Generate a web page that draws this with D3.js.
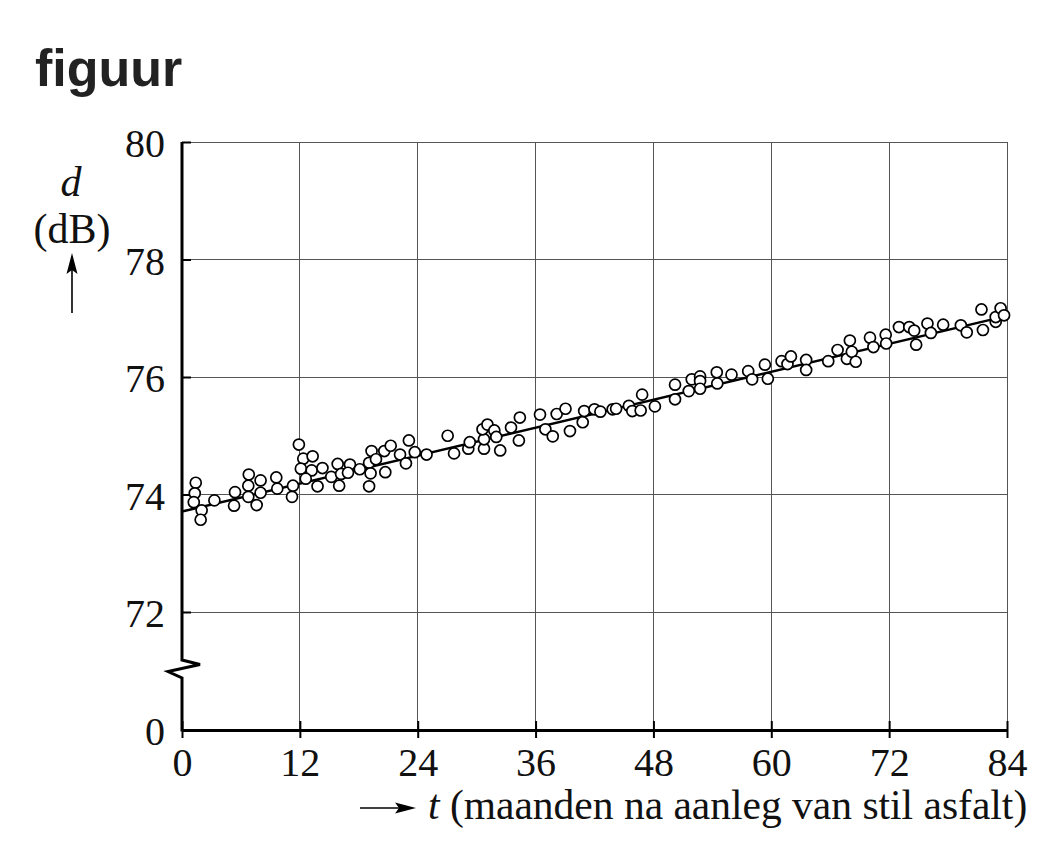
<!DOCTYPE html>
<html><head><meta charset="utf-8">
<script src="https://cdn.jsdelivr.net/npm/d3@7"></script>
<style>
html,body{margin:0;padding:0;background:#fff;}
svg{display:block;}
</style></head>
<body>
<svg id="chart" width="1040" height="866"></svg>
<script>
// ---- data ----
const monthTicks = [0, 12, 24, 36, 48, 60, 72, 84];
const dbTicks = [0, 72, 74, 76, 78, 80];
const gridDb = [72, 74, 76, 78, 80];
const tValues = [1.4,1.3,1.2,2.0,1.9,3.3,5.4,5.3,6.8,6.75,
  6.75,7.6,8.0,8.0,9.6,9.7,11.2,11.3,11.9,12.35,
  13.3,12.1,13.2,12.6,13.8,14.3,15.2,15.85,16.0,16.2,
  17.1,16.9,18.1,19.05,19.2,19.05,19.3,19.75,20.6,20.7,
  21.25,22.2,23.1,22.8,23.7,24.9,27.05,27.7,29.15,29.3,
  30.75,30.75,30.6,31.1,31.8,32.0,32.4,33.5,34.4,34.3,
  36.45,37.0,37.75,38.15,39.05,39.5,40.8,40.95,42.0,42.6,
  43.85,44.2,45.5,45.85,46.7,46.85,48.15,50.2,50.2,51.6,
  51.9,52.75,52.75,52.75,54.45,54.5,55.95,57.65,58.05,59.35,
  59.65,61.05,61.65,62.0,63.55,63.55,65.8,66.75,67.7,68.0,
  68.2,68.6,70.05,70.4,71.65,71.7,73.0,74.05,74.55,74.75,
  75.9,76.25,77.5,79.3,79.9,81.4,81.55,82.85,82.85,83.35,
  83.7];
const dValues = [74.20,74.02,73.87,73.73,73.57,73.90,74.04,73.81,74.34,74.15,
  73.96,73.82,74.24,74.03,74.29,74.10,73.96,74.15,74.85,74.61,
  74.65,74.44,74.41,74.27,74.14,74.45,74.30,74.52,74.15,74.35,
  74.51,74.37,74.43,74.54,74.36,74.14,74.74,74.60,74.74,74.38,
  74.83,74.68,74.92,74.53,74.72,74.68,75.00,74.70,74.78,74.89,
  74.78,74.94,75.11,75.19,75.09,74.98,74.75,75.14,75.31,74.92,
  75.36,75.11,74.99,75.37,75.46,75.08,75.23,75.42,75.45,75.41,
  75.45,75.46,75.51,75.42,75.43,75.70,75.50,75.87,75.62,75.76,
  75.96,76.01,75.93,75.80,76.08,75.89,76.04,76.10,75.96,76.21,
  75.97,76.27,76.22,76.35,76.29,76.12,76.27,76.46,76.31,76.62,
  76.43,76.26,76.67,76.51,76.72,76.57,76.85,76.85,76.79,76.55,
  76.91,76.75,76.89,76.88,76.76,77.15,76.80,76.94,77.02,77.17,
  77.05];
const trendT = [0, 84];
const trendD = [73.71, 77.04];

// ---- scales ----
const x = d3.scaleLinear().domain([0, 84]).range([182, 1007]);
const y = d3.scaleLinear().domain([0, 72, 80]).range([730, 612, 142]);

const svg = d3.select("#chart");
const serif = "'Liberation Serif','Times New Roman',serif";

// title
svg.append("text").attr("x", 35).attr("y", 86)
  .attr("font-family", "'Liberation Sans',Arial,sans-serif")
  .attr("font-weight", "bold").attr("font-size", 52).attr("fill", "#222")
  .text("figuur");

// grid
const grid = svg.append("g").attr("stroke", "#555").attr("stroke-width", 1).attr("shape-rendering", "crispEdges");
grid.selectAll("line.h").data(gridDb).join("line")
  .attr("x1", x(0)).attr("x2", x(84)).attr("y1", d => y(d)).attr("y2", d => y(d));
grid.selectAll("line.v").data(monthTicks.slice(1)).join("line")
  .attr("x1", d => x(d)).attr("x2", d => x(d)).attr("y1", y(80)).attr("y2", y(0));

// x axis
const xAxis = svg.append("g").attr("transform", `translate(0,${y(0)})`)
  .call(d3.axisBottom(x).tickValues(monthTicks).tickSizeOuter(0).tickSizeInner(8).tickPadding(10));
xAxis.select(".domain").attr("stroke", "#000").attr("stroke-width", 3);
xAxis.selectAll(".tick line").attr("stroke", "#000").attr("stroke-width", 2).attr("y1", -9);
xAxis.selectAll(".tick text").attr("font-family", serif).attr("font-size", 40).attr("fill", "#111");

// y axis (ticks + labels, domain drawn separately with break)
const yAxis = svg.append("g").attr("transform", `translate(${x(0)},0)`)
  .call(d3.axisLeft(y).tickValues(dbTicks).tickSizeOuter(0).tickSizeInner(9).tickPadding(8));
yAxis.select(".domain").remove();
yAxis.selectAll(".tick line").attr("stroke", "#000").attr("stroke-width", 2).attr("x2", 9);
yAxis.selectAll(".tick text").attr("font-family", serif).attr("font-size", 40).attr("fill", "#111").attr("dy", "0.37em");

// y axis line with zigzag break
const x0 = x(0);
const axisPts = [[x0, y(80)], [x0, 660], [x0 + 18, 664.5], [x0 - 14, 671.5], [x0, 678], [x0, y(0) + 1.5]];
svg.append("path").attr("d", d3.line()(axisPts))
  .attr("fill", "none").attr("stroke", "#000").attr("stroke-width", 3).attr("stroke-linejoin", "miter");

// trend line
svg.append("path")
  .attr("d", d3.line().x(d => x(d[0])).y(d => y(d[1]))(trendT.map((t, i) => [t, trendD[i]])))
  .attr("stroke", "#000").attr("stroke-width", 2.5).attr("fill", "none");

// points
svg.append("g").selectAll("circle").data(tValues.map((t, i) => [t, dValues[i]])).join("circle")
  .attr("cx", d => x(d[0])).attr("cy", d => y(d[1])).attr("r", 5.5)
  .attr("fill", "#fff").attr("stroke", "#000").attr("stroke-width", 1.7);

// y label
svg.append("text").attr("x", 71).attr("y", 196).attr("text-anchor", "middle")
  .attr("font-family", serif).attr("font-style", "italic").attr("font-size", 42).attr("fill", "#111").text("d");
svg.append("text").attr("x", 72).attr("y", 243).attr("text-anchor", "middle")
  .attr("font-family", serif).attr("font-size", 42).attr("fill", "#111").text("(dB)");
svg.append("line").attr("x1", 72).attr("x2", 72).attr("y1", 313).attr("y2", 268)
  .attr("stroke", "#000").attr("stroke-width", 1.6);
svg.append("path").attr("d", "M72,253 L66.5,274 L72,270 L77.5,274 Z").attr("fill", "#000");

// x label
svg.append("line").attr("x1", 360).attr("x2", 402).attr("y1", 808).attr("y2", 808)
  .attr("stroke", "#000").attr("stroke-width", 1.6);
svg.append("path").attr("d", "M416,808 L395,802.5 L399,808 L395,813.5 Z").attr("fill", "#000");
const xl = svg.append("text").attr("x", 428).attr("y", 819)
  .attr("font-family", serif).attr("font-size", 41.5).attr("fill", "#111");
xl.append("tspan").attr("font-style", "italic").text("t");
xl.append("tspan").text(" (maanden na aanleg van stil asfalt)");
</script>
</body></html>
